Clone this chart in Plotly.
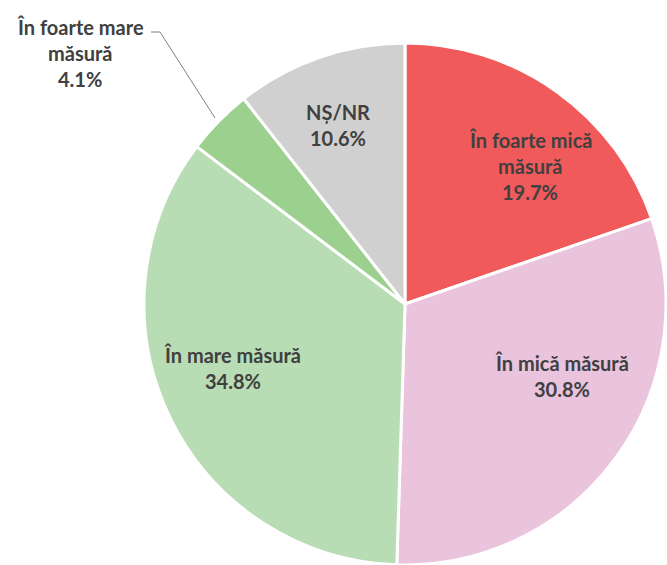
import plotly.graph_objects as go

W, H = 667, 565

categories = ["În foarte mică măsură", "În mică măsură", "În mare măsură",
              "În foarte mare măsură", "NȘ/NR"]
values = [19.7, 30.8, 34.8, 4.1, 10.6]
colors = ["#F05A5B", "#EAC3DD", "#B8DCB3", "#9BD08F", "#D0D0D0"]

# label lines as shown on the chart (name lines, then percentage)
label_lines = [
    ["În foarte mică", "măsură"],
    ["În mică măsură"],
    ["În mare măsură"],
    ["În foarte mare", "măsură"],
    ["NȘ/NR"],
]
# label anchor (pixel centre of first line) for each slice
label_pos = [(530, 140), (562, 363), (233, 355), (80, 27), (338, 112)]

cx, cy, r = 405, 304, 261

fig = go.Figure(go.Pie(
    labels=categories, values=values, sort=False, direction="clockwise",
    rotation=0, textinfo="none", hoverinfo="label+percent",
    marker=dict(colors=colors, line=dict(color="white", width=3)),
    domain=dict(x=[(cx - r) / W, (cx + r) / W], y=[(H - cy - r) / H, (H - cy + r) / H]),
    showlegend=False,
))

def px(x):
    return x / W

def py(y):
    return 1 - y / H

font = dict(family="Lato, 'Noto Sans', sans-serif", size=20, color="#404040")
line_gap = 26
for lines, v, (x0, y0) in zip(label_lines, values, label_pos):
    all_lines = lines + [f"{v:.1f}%"]
    for i, t in enumerate(all_lines):
        fig.add_annotation(x=px(x0), y=py(y0 + i * line_gap), xref="paper", yref="paper",
                           text=f"<b>{t}</b>", showarrow=False, font=font,
                           xanchor="center", yanchor="middle")

# leader line for the small slice
fig.add_shape(type="path", xref="paper", yref="paper",
              path=f"M {px(151)} {py(32)} L {px(160)} {py(32)} L {px(215)} {py(118)}",
              line=dict(color="#808080", width=1))

fig.update_layout(width=W, height=H, margin=dict(l=0, r=0, t=0, b=0),
                  paper_bgcolor="white", plot_bgcolor="white")

fig.write_html("out.html", config={"displayModeBar": False},
               post_script="document.body.style.margin='0';"
                           "document.body.style.overflow='hidden';")
